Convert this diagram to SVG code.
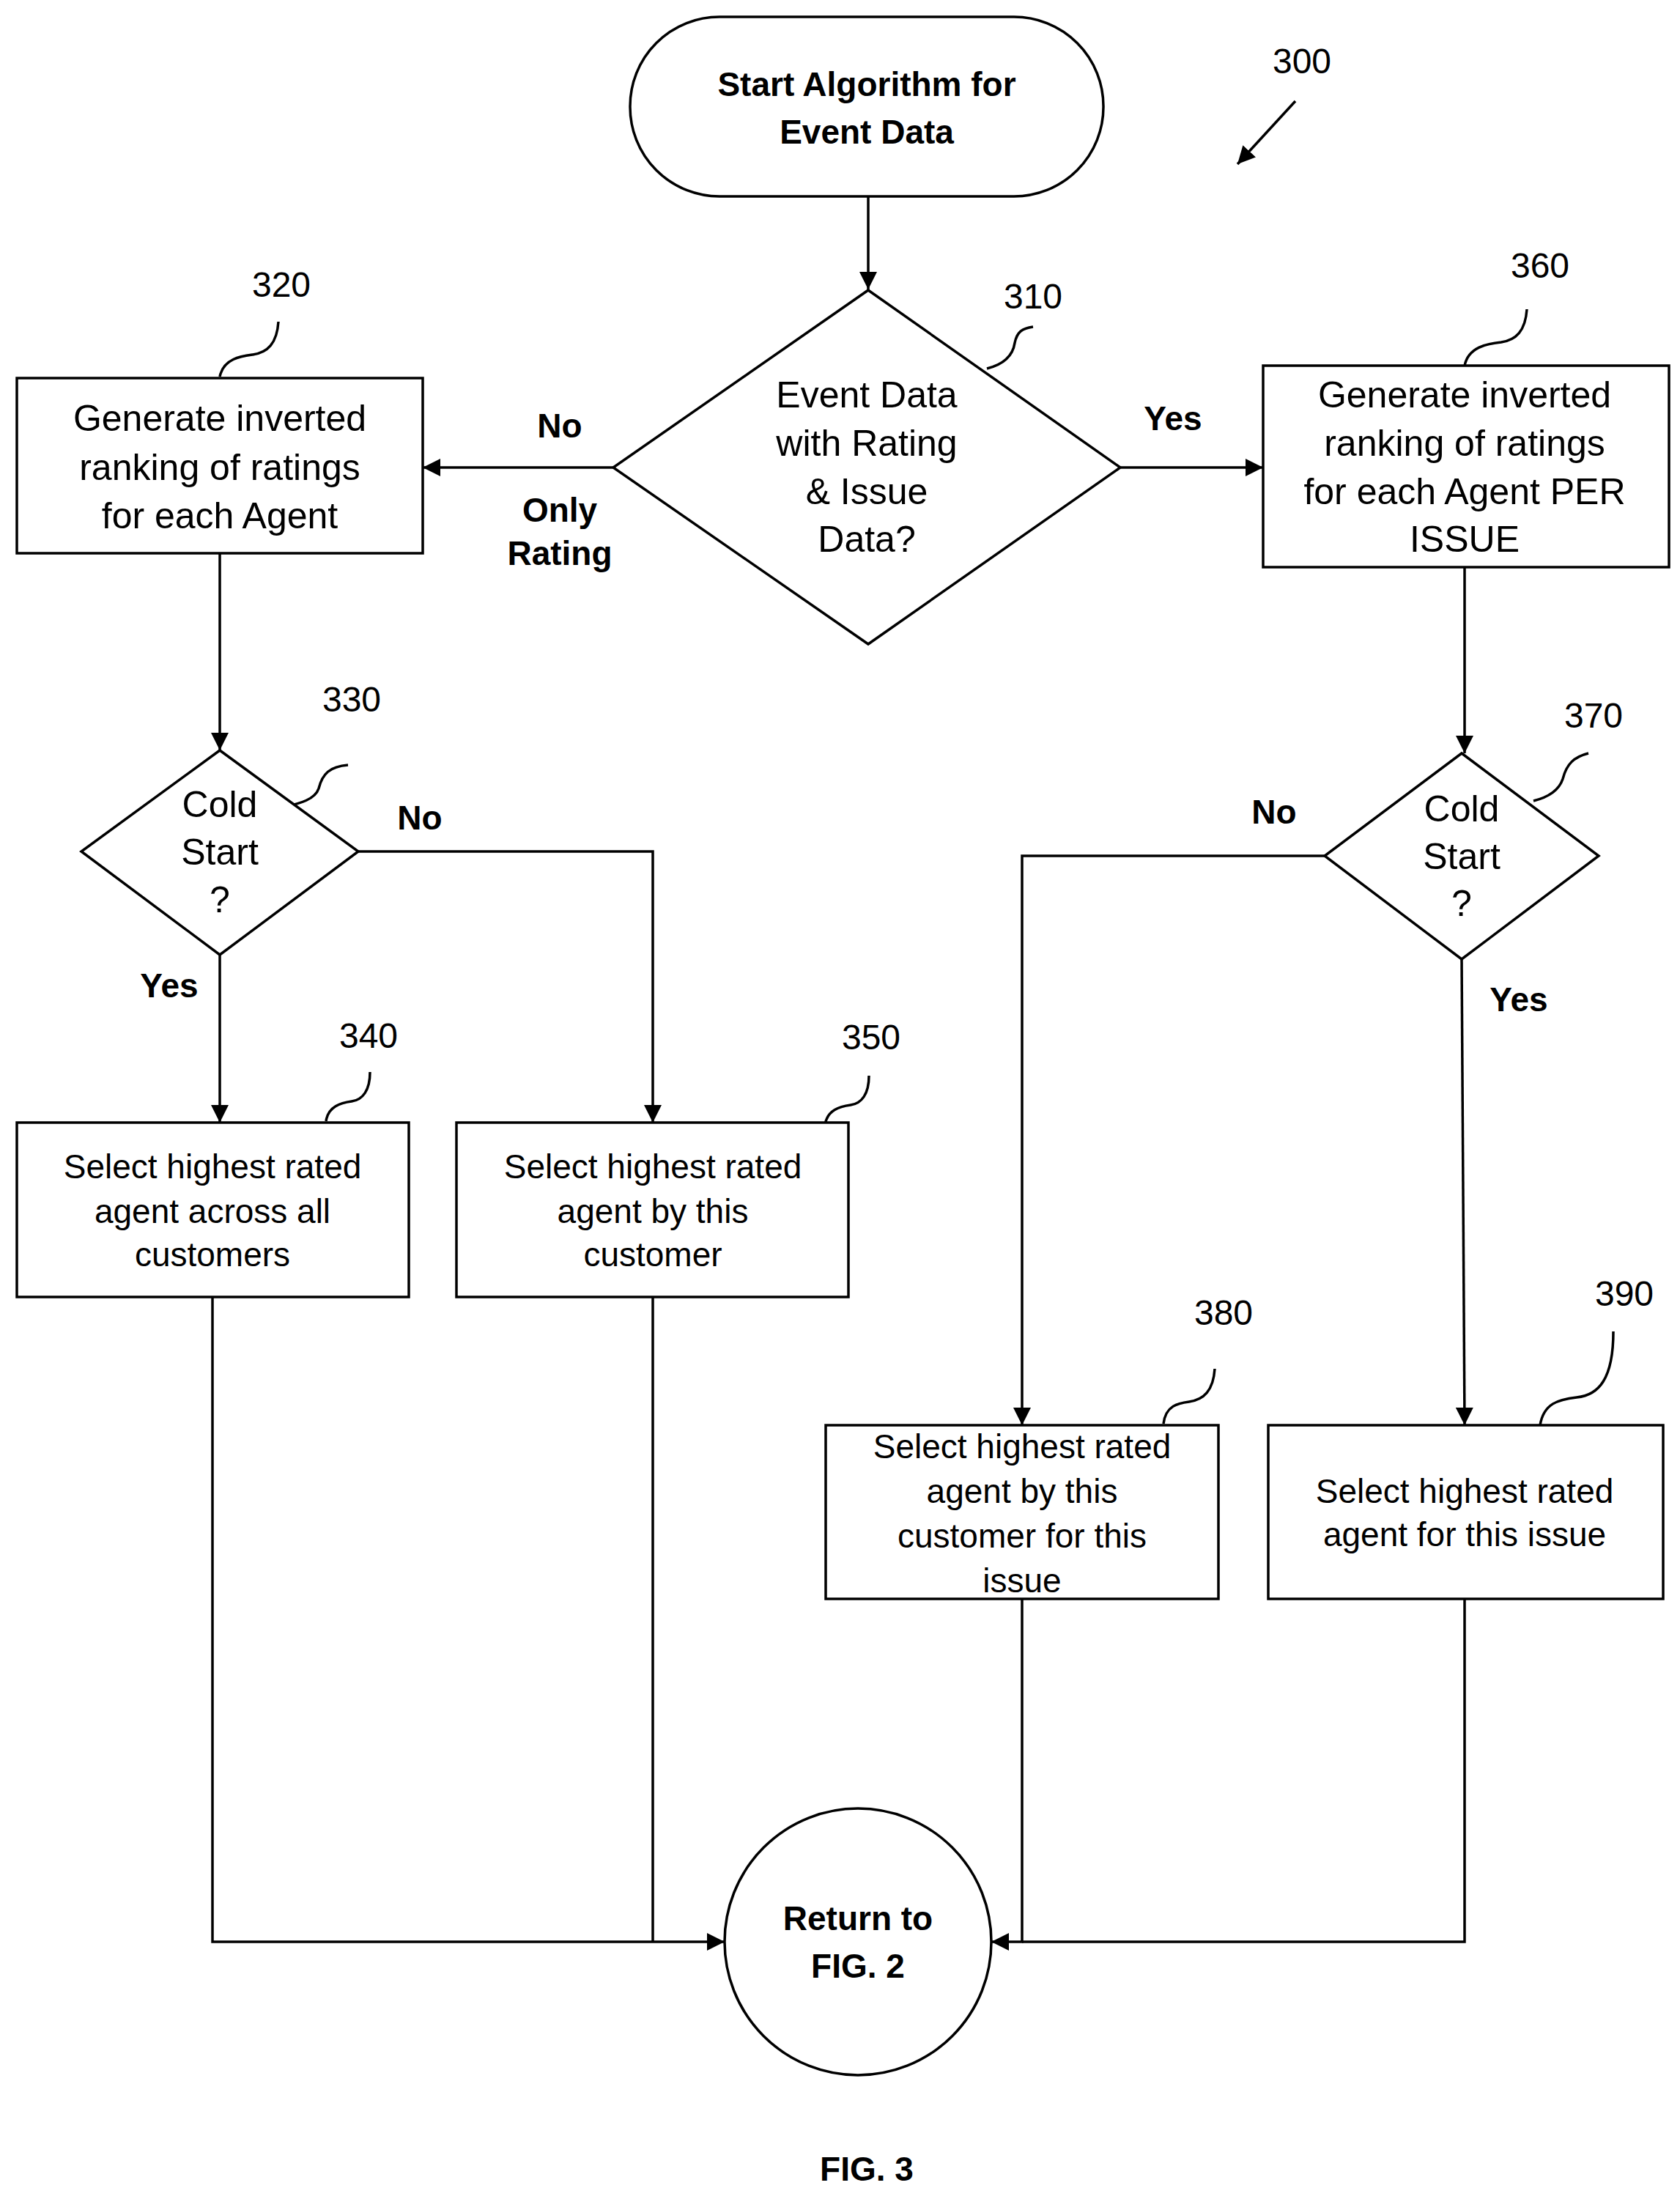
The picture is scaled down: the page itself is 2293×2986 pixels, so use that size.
<svg xmlns="http://www.w3.org/2000/svg" width="2293" height="2986" viewBox="0 0 2293 2986">
<style>
.s{fill:#fff;stroke:#000;stroke-width:3.5}
.l{fill:none;stroke:#000;stroke-width:3.5}
text{font-family:"Liberation Sans",Arial,sans-serif;fill:#000;text-anchor:middle}
.t{font-size:50px}
.m{font-size:46px}
.b{font-size:46px;font-weight:bold}
.n{font-size:48px}
</style>
<defs><marker id="a" markerWidth="10" markerHeight="10" refX="9" refY="5" orient="auto" markerUnits="userSpaceOnUse" viewBox="0 0 10 10"><path d="M0,0L10,5L0,10z"/></marker>
<marker id="ah" viewBox="0 0 10 10" refX="10" refY="5" markerWidth="24" markerHeight="24" orient="auto" markerUnits="userSpaceOnUse"><path d="M0,0L10,5L0,10z"/></marker></defs>
<g id="connectors">
<path class="l" marker-end="url(#ah)" d="M1185,268V395"/>
<path class="l" marker-end="url(#ah)" d="M837,638H577"/>
<path class="l" marker-end="url(#ah)" d="M1529,638H1724"/>
<path class="l" marker-end="url(#ah)" d="M300,755V1024"/>
<path class="l" marker-end="url(#ah)" d="M1999,774V1028"/>
<path class="l" marker-end="url(#ah)" d="M489,1162H891V1532"/>
<path class="l" marker-end="url(#ah)" d="M300,1303V1532"/>
<path class="l" marker-end="url(#ah)" d="M1808,1168H1395V1945"/>
<path class="l" marker-end="url(#ah)" d="M1995,1309L1999,1945"/>
<path class="l" marker-end="url(#ah)" d="M290,1770V2650H989"/>
<path class="l" d="M891,1770V2650"/>
<path class="l" marker-end="url(#ah)" d="M1395,2182V2650H1353"/>
<path class="l" d="M1999,2182V2650H1395"/>
<path class="l" marker-end="url(#ah)" d="M1768,138L1689,224"/>
<path class="l" d="M1347,503c20,-5 35,-15 38,-35c3,-15 10,-20 25,-22"/>
<path class="l" d="M300,514c5,-25 30,-28 45,-30c20,-3 33,-15 35,-45"/>
<path class="l" d="M1999,499c5,-25 30,-30 50,-32c20,-3 33,-15 35,-45"/>
<path class="l" d="M390,1101c20,-5 40,-10 45,-25c5,-20 15,-30 40,-32"/>
<path class="l" d="M2093,1093c20,-5 35,-15 40,-30c5,-20 15,-30 35,-35"/>
<path class="l" d="M445,1530c3,-20 20,-25 35,-27c15,-2 25,-15 25,-40"/>
<path class="l" d="M1126,1535c3,-20 20,-25 35,-27c15,-2 25,-15 25,-40"/>
<path class="l" d="M1588,1943c3,-25 20,-28 35,-30c20,-3 33,-15 35,-45"/>
<path class="l" d="M2102,1945c5,-30 25,-35 50,-38c30,-3 50,-25 50,-90"/>
</g>
<g id="n300"><text class="n" x="1777" y="100">300</text></g>
<g id="start"><rect class="s" x="860" y="23" width="646" height="245" rx="122"/><text class="b" x="1183" y="131" font-size="50">Start Algorithm for</text><text class="b" x="1183" y="196">Event Data</text></g>
<g id="n310"><polygon class="s" points="1185,396 1529,638 1185,879 837,638"/><text class="t" x="1183" y="556">Event Data</text><text class="t" x="1183" y="622">with Rating</text><text class="t" x="1183" y="688">&amp; Issue</text><text class="t" x="1183" y="753">Data?</text><text class="n" x="1410" y="421">310</text></g>
<g id="n320"><rect class="s" x="23" y="516" width="554" height="239"/><text class="t" x="300" y="588">Generate inverted</text><text class="t" x="300" y="655">ranking of ratings</text><text class="t" x="300" y="721">for each Agent</text><text class="n" x="384" y="405">320</text></g>
<g id="lbl"><text class="b" x="764" y="597">No</text><text class="b" x="764" y="712">Only</text><text class="b" x="764" y="771">Rating</text><text class="b" x="1601" y="587">Yes</text><text class="b" x="573" y="1132">No</text><text class="b" x="231" y="1361">Yes</text><text class="b" x="1739" y="1124">No</text><text class="b" x="2073" y="1380">Yes</text></g>
<g id="n360"><rect class="s" x="1724" y="499" width="554" height="275"/><text class="t" x="1999" y="556">Generate inverted</text><text class="t" x="1999" y="622">ranking of ratings</text><text class="t" x="1999" y="688">for each Agent PER</text><text class="t" x="1999" y="753">ISSUE</text><text class="n" x="2102" y="379">360</text></g>
<g id="n330"><polygon class="s" points="300,1024 489,1162 300,1303 111,1162"/><text class="t" x="300" y="1115">Cold</text><text class="t" x="300" y="1180">Start</text><text class="t" x="300" y="1245">?</text><text class="n" x="480" y="971">330</text></g>
<g id="n370"><polygon class="s" points="1995,1028 2182,1168 1995,1309 1808,1168"/><text class="t" x="1995" y="1121">Cold</text><text class="t" x="1995" y="1186">Start</text><text class="t" x="1995" y="1250">?</text><text class="n" x="2175" y="993">370</text></g>
<g id="n340"><rect class="s" x="23" y="1532" width="535" height="238"/><text class="m" x="290" y="1608">Select highest rated</text><text class="m" x="290" y="1669">agent across all</text><text class="m" x="290" y="1728">customers</text><text class="n" x="503" y="1430">340</text></g>
<g id="n350"><rect class="s" x="623" y="1532" width="535" height="238"/><text class="m" x="891" y="1608">Select highest rated</text><text class="m" x="891" y="1669">agent by this</text><text class="m" x="891" y="1728">customer</text><text class="n" x="1189" y="1432">350</text></g>
<g id="n380"><rect class="s" x="1127" y="1945" width="536" height="237"/><text class="m" x="1395" y="1990">Select highest rated</text><text class="m" x="1395" y="2051">agent by this</text><text class="m" x="1395" y="2112">customer for this</text><text class="m" x="1395" y="2173">issue</text><text class="n" x="1670" y="1808">380</text></g>
<g id="n390"><rect class="s" x="1731" y="1945" width="539" height="237"/><text class="m" x="1999" y="2051">Select highest rated</text><text class="m" x="1999" y="2110">agent for this issue</text><text class="n" x="2217" y="1782">390</text></g>
<g id="ret"><circle class="s" cx="1171" cy="2650" r="182"/><text class="b" x="1171" y="2634" font-size="50">Return to</text><text class="b" x="1171" y="2699">FIG. 2</text></g>
<text class="b" x="1183" y="2976" font-size="57">FIG. 3</text>
</svg>
